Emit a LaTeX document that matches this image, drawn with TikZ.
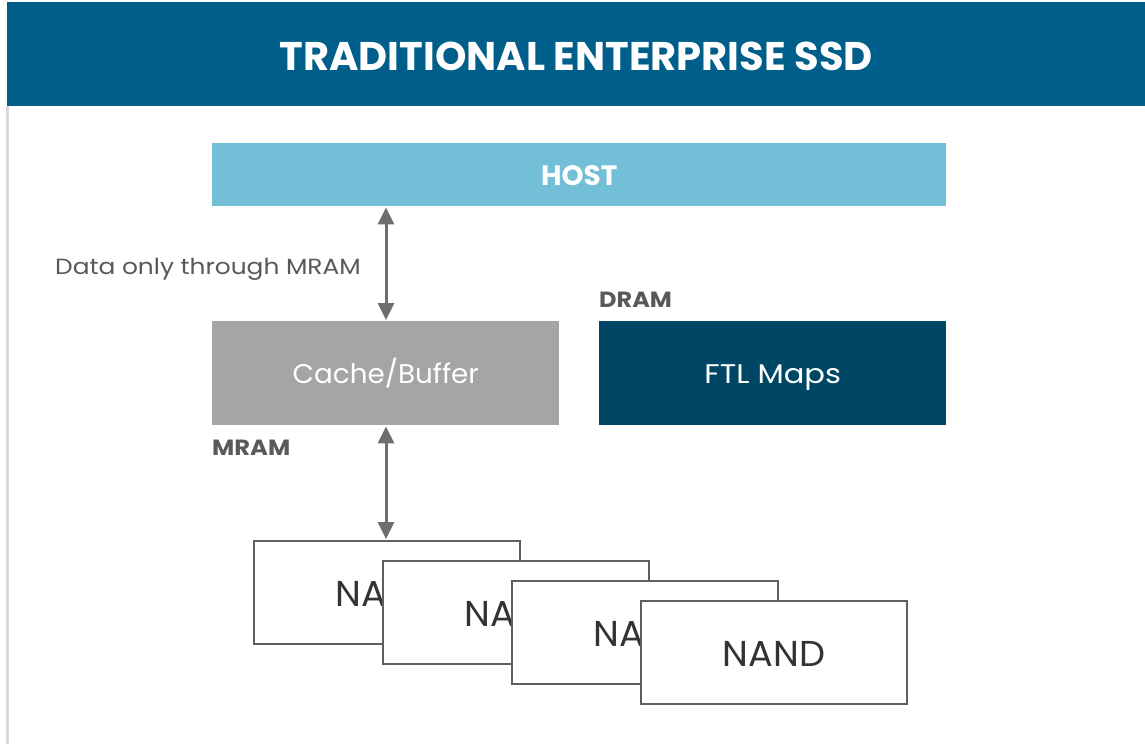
\documentclass[tikz,border=0pt]{standalone}
\usepackage{fontspec}
\setmainfont{Poppins}
\usetikzlibrary{arrows.meta}
\definecolor{titleblue}{RGB}{0,95,138}
\definecolor{hostblue}{RGB}{116,191,216}
\definecolor{cachegray}{RGB}{165,165,165}
\definecolor{ftlblue}{RGB}{0,71,102}
\definecolor{arrowgray}{RGB}{110,110,110}
\definecolor{labelgray}{RGB}{89,89,89}
\definecolor{nandgray}{RGB}{95,95,95}
\newcommand{\lowered}[2]{\raisebox{-#1}[\height][\depth]{#2}}
\tikzset{
  blockbox/.style={inner sep=0pt, text=white, anchor=north west},
  nandbox/.style={draw=nandgray, line width=1.8pt, fill=white, minimum width=266pt, minimum height=103pt, anchor=north west, inner sep=0pt, text=black!80, font=\fontsize{36}{40}\selectfont},
  biarrow/.style={draw=arrowgray, line width=3pt, {Triangle[width=16pt,length=17pt]}-{Triangle[width=16pt,length=17pt]}, shorten <=1pt, shorten >=1pt},
  lbl/.style={text=labelgray, inner sep=0pt}
}
\begin{document}
\begin{tikzpicture}[x=1pt,y=-1pt]
\useasboundingbox (0,0) rectangle (1145,744);
\fill[white] (0,0) rectangle (1145,744);
\fill[black!15] (6,106) rectangle (9,744);
\node[blockbox, fill=titleblue, minimum width=1138pt, minimum height=104pt, font=\bfseries\fontsize{40}{46}\selectfont] (title) at (7,2) {\lowered{2pt}{TRADITIONAL ENTERPRISE SSD}};
\node[blockbox, fill=hostblue, minimum width=734pt, minimum height=63pt, font=\bfseries\fontsize{28}{30}\selectfont] (host) at (212,143) {\lowered{1pt}{HOST}};
\node[blockbox, fill=cachegray, minimum width=347pt, minimum height=104pt, font=\fontsize{27}{30}\selectfont] (cache) at (212,321) {\scalebox{1.03}[1]{Cache/Buffer}};
\node[blockbox, fill=ftlblue, minimum width=347pt, minimum height=104pt, font=\fontsize{27}{30}\selectfont] (ftl) at (599,321) {\lowered{4pt}{\scalebox{1.13}[1]{FTL Maps}}};
\node[lbl, anchor=west, font=\fontsize{22}{24}\selectfont] (datalbl) at (55,269) {\scalebox{1.13}[1]{Data only through MRAM}};
\node[lbl, anchor=west, font=\bfseries\fontsize{22}{24}\selectfont] (dramlbl) at (599,300) {\scalebox{1.09}[1]{DRAM}};
\node[lbl, anchor=west, font=\bfseries\fontsize{22}{24}\selectfont] (mramlbl) at (212,448) {\scalebox{1.1}[1]{MRAM}};
\node[nandbox] (n1) at (253,540) {\lowered{2pt}{\scalebox{1.02}[1]{NAND}}};
\node[nandbox] (n2) at (382,560) {\lowered{2pt}{\scalebox{1.02}[1]{NAND}}};
\node[nandbox] (n3) at (511,580) {\lowered{2pt}{\scalebox{1.02}[1]{NAND}}};
\node[nandbox] (n4) at (640,600) {\lowered{2pt}{\scalebox{1.02}[1]{NAND}}};
\draw[biarrow] (host.south -| 386,0) -- (cache.north -| 386,0);
\draw[biarrow] (cache.south -| 386,0) -- (n1.north -| 386,0);
\end{tikzpicture}
\end{document}
